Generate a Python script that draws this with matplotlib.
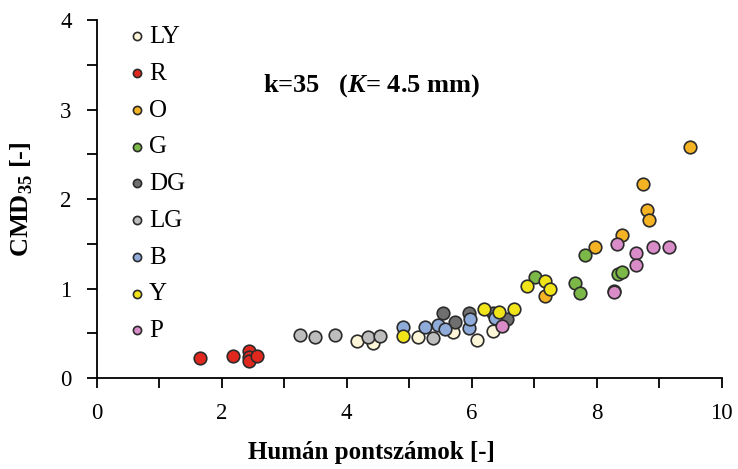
import matplotlib.pyplot as plt
from matplotlib.ticker import MultipleLocator

plt.rcParams['font.family'] = ['Liberation Serif', 'DejaVu Serif']
plt.rcParams['mathtext.fontset'] = 'custom'
plt.rcParams['mathtext.rm'] = 'Liberation Serif'
plt.rcParams['mathtext.bf'] = 'Liberation Serif:bold'
plt.rcParams['mathtext.bfit'] = 'Liberation Serif:bold:italic'

# colour groups, in legend order
labels = ["LY", "R", "O", "G", "DG", "LG", "B", "Y", "P"]
colors = ["#fdf6d8", "#e0281e", "#f4b323", "#7cb848", "#6f6f6f",
          "#bdbdbd", "#8fabda", "#f1e51a", "#d98cc8"]

ly_x = [4.16, 4.42, 5.14, 5.70, 6.08, 6.34]
ly_y = [0.41, 0.39, 0.46, 0.51, 0.42, 0.53]
r_x = [1.65, 2.18, 2.43, 2.43, 2.44, 2.56]
r_y = [0.22, 0.25, 0.30, 0.23, 0.19, 0.25]
o_x = [7.18, 7.97, 8.40, 8.74, 8.80, 8.83, 9.49]
o_y = [0.92, 1.46, 1.60, 2.17, 1.88, 1.77, 2.58]
g_x = [7.02, 7.66, 7.73, 7.81, 8.34, 8.40]
g_y = [1.13, 1.06, 0.95, 1.37, 1.16, 1.18]
dg_x = [5.54, 5.74, 5.95, 6.34, 6.56, 8.27]
dg_y = [0.73, 0.63, 0.73, 0.73, 0.66, 0.97]
lg_x = [3.25, 3.50, 3.82, 4.34, 4.53, 5.38]
lg_y = [0.48, 0.46, 0.48, 0.46, 0.47, 0.45]
b_x = [4.90, 5.25, 5.46, 5.57, 5.95, 5.98, 6.37]
b_y = [0.57, 0.57, 0.59, 0.55, 0.56, 0.66, 0.67]
y_x = [4.90, 6.19, 6.43, 6.67, 6.88, 7.18, 7.25]
y_y = [0.47, 0.77, 0.74, 0.77, 1.03, 1.08, 0.99]
p_x = [6.48, 8.27, 8.32, 8.62, 8.62, 8.90, 9.15]
p_y = [0.58, 0.96, 1.50, 1.40, 1.26, 1.47, 1.46]

xs = [ly_x, r_x, o_x, g_x, dg_x, lg_x, b_x, y_x, p_x]
ys = [ly_y, r_y, o_y, g_y, dg_y, lg_y, b_y, y_y, p_y]

fig = plt.figure(figsize=(7.38, 4.69), dpi=100)
ax = fig.add_axes([0.131, 0.194, 0.847, 0.763])

for lab, c, x, y in zip(labels, colors, xs, ys):
    ax.scatter(x, y, s=82, color=c, edgecolors="#2b2b2b", linewidths=1.2,
               label=lab, zorder=3)

ax.set_xlim(0, 10)
ax.set_ylim(0, 4)
ax.xaxis.set_major_locator(MultipleLocator(2))
ax.xaxis.set_minor_locator(MultipleLocator(1))
ax.yaxis.set_major_locator(MultipleLocator(1))
ax.yaxis.set_minor_locator(MultipleLocator(0.5))
ax.tick_params(which="both", direction="out", length=7, width=1.3,
               labelsize=16.5, pad=11)
for side in ["top", "right"]:
    ax.spines[side].set_visible(False)
for side in ["left", "bottom"]:
    ax.spines[side].set_linewidth(1.3)

ax.set_xlabel("Humán pontszámok [-]", fontsize=18, fontweight="bold")
# label sits left of centre in the original
ax.xaxis.set_label_coords(0.44, -0.176)
ax.set_ylabel(r"CMD$_{\mathbf{35}}$ [-]", fontsize=19, fontweight="bold",
              labelpad=18)

ax.text(0.266, 0.816, r"k=35   ($\mathbfit{K}$= 4.5 mm)", transform=ax.transAxes,
        fontsize=19, fontweight="bold", va="center", ha="left")

leg = ax.legend(loc="upper left", bbox_to_anchor=(0.022, 1.027), frameon=False,
                fontsize=18, markerscale=0.65, handletextpad=0.05,
                labelspacing=0.57, borderaxespad=0.2, handlelength=0.9)

fig.savefig("out.png", dpi=100)
